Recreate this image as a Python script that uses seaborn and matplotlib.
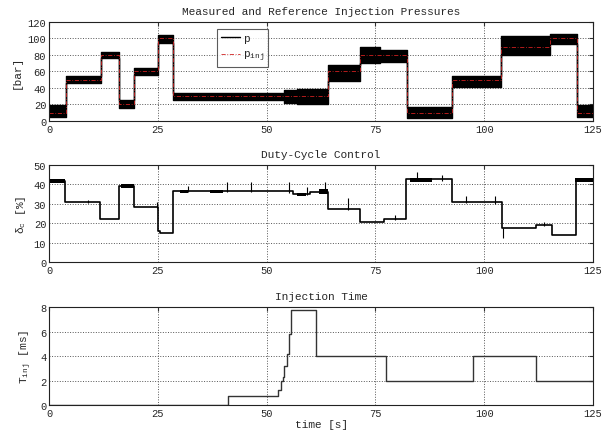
import matplotlib
matplotlib.use('Agg')
import matplotlib.pyplot as plt
import seaborn as sns
import pandas as pd

# measured / reference pressure, segments start at p_t (s)
p_t = [0, 4, 12, 16, 19.5, 25, 28.5, 54, 57, 64.2, 71.5, 76, 82.3, 92.5, 103.8, 115.2, 121.2]
p_ref = [10, 50, 80, 20, 60, 100, 30, 30, 30, 60, 80, 80, 10, 50, 90, 100, 10]
p_lo = [5, 46, 76, 16, 56, 95, 26, 22, 20, 49, 70, 72, 4, 41, 80, 93, 5]
p_hi = [19, 54, 84, 25, 64, 104, 34, 38, 39, 68, 90, 86, 17, 55, 103, 106, 19]

# duty cycle [%]
d_t = [0, 3.75, 11.8, 16.1, 19.5, 25, 25.4, 28.5, 56, 60, 64.2, 71.5, 77, 82, 92.5, 104, 112, 115.5, 121]
d_val = [41.8, 31, 22.3, 39.4, 28.3, 16, 14.8, 36.6, 35.2, 36.2, 27.4, 20.8, 22.2, 42.8, 31, 17.3, 19.3, 13.8, 42.5]
spike_t = [9, 24.8, 32, 40.8, 46.3, 55.2, 59.2, 63.5, 68.7, 79.6, 84.6, 90.2, 95.8, 102.5, 104.2, 113.8]
spike_lo = [30.5, 28, 36, 36, 36, 35.5, 34.5, 35.5, 26.8, 21.5, 42, 42, 30.5, 30, 12.5, 18.8]
spike_hi = [32, 31, 39, 41.5, 41.5, 41, 38.5, 41, 33, 24, 46.5, 45, 34, 34, 17.5, 20.5]
band_t0 = [0, 16.5, 30, 37, 57, 62, 83, 120.8]
band_t1 = [3.75, 19.5, 32, 40, 59, 64, 88, 125]
band_lo = [40.5, 38.3, 35.8, 35.8, 34.2, 35.3, 41.5, 41.5]
band_hi = [43, 40.2, 37.3, 37.3, 35.8, 37.5, 43.5, 43.3]

# injection time [ms]
ti_t = [0, 41.1, 52.6, 53.2, 53.7, 54.0, 54.6, 55.1, 55.6, 61.3, 77.5, 97.5, 111.8]
ti_val = [0, 0.77, 1.26, 2.0, 2.3, 3.2, 4.2, 5.8, 7.8, 4, 2, 4, 2]

T_END = 125

sns.set_style('white')
plt.rcParams['font.family'] = ['Liberation Mono', 'DejaVu Sans']
plt.rcParams['mathtext.fontset'] = 'custom'
plt.rcParams['mathtext.rm'] = 'Liberation Mono'
plt.rcParams['mathtext.it'] = 'Liberation Mono'
plt.rcParams['font.size'] = 7.5

fig = plt.figure(figsize=(6.15, 4.31), dpi=100)
ax1 = fig.add_axes([0.0797, 0.717, 0.8846, 0.2297])
ax2 = fig.add_axes([0.0797, 0.3898, 0.8846, 0.225])
ax3 = fig.add_axes([0.0797, 0.058, 0.8846, 0.2267])


def ext(t, v):
    return list(t) + [T_END], list(v) + [v[-1]]


def style(ax, ymax, ystep):
    ax.set_xlim(0, T_END)
    ax.set_ylim(0, ymax)
    ax.set_xticks(range(0, 126, 25))
    ax.set_yticks(range(0, ymax + 1, ystep))
    ax.grid(True, linestyle=':', color='#555555', linewidth=0.7)
    ax.tick_params(direction='in', length=3, top=True, right=True,
                   labelsize=7.5, pad=2, color='#333333')
    for s in ax.spines.values():
        s.set_color('#222222')
        s.set_linewidth(0.8)


# --- pressures
tt, lo = ext(p_t, p_lo)
_, hi = ext(p_t, p_hi)
ax1.fill_between(tt, lo, hi, step='post', color='black', linewidth=1.0, edgecolor='black')
_, ref = ext(p_t, p_ref)
ax1.plot([], [], color='black', linewidth=1, label='p')
sns.lineplot(x=tt, y=ref, ax=ax1, drawstyle='steps-post', color='#d02020',
             linestyle=(0, (5, 2, 1, 2)), linewidth=0.6, label=r'p$_{\mathrm{inj}}$')
style(ax1, 120, 20)
ax1.set_ylabel('[bar]', fontsize=8, labelpad=4)
ax1.set_title('Measured and Reference Injection Pressures', fontsize=8, pad=6)
leg = ax1.legend(loc='upper left', bbox_to_anchor=(0.309, 0.93), fontsize=8,
                 frameon=True, fancybox=False, edgecolor='#333333',
                 handlelength=1.7, borderpad=0.35, labelspacing=0.55,
                 handletextpad=0.3, borderaxespad=0)
leg.get_frame().set_linewidth(0.8)

# --- duty cycle
tt, dv = ext(d_t, d_val)
sns.lineplot(x=tt, y=dv, ax=ax2, drawstyle='steps-post', color='black', linewidth=1.2)
for a, b, l, h in zip(band_t0, band_t1, band_lo, band_hi):
    ax2.fill_between([a, b], [l, l], [h, h], color='black', linewidth=0)
ax2.vlines(spike_t, spike_lo, spike_hi, color='black', linewidth=0.8)
style(ax2, 50, 10)
ax2.set_ylabel(r'$\delta_{c}$ [%]', fontsize=8, labelpad=4)
ax2.set_title('Duty-Cycle Control', fontsize=8, pad=6)

# --- injection time
tt, tv = ext(ti_t, ti_val)
df = pd.DataFrame({'t': tt, 'ti': tv})
sns.lineplot(data=df, x='t', y='ti', ax=ax3, drawstyle='steps-post', color='#333333', linewidth=1.0)
style(ax3, 8, 2)
ax3.set_ylabel(r'T$_{\mathrm{inj}}$ [ms]', fontsize=8, labelpad=4)
ax3.set_xlabel('time [s]', fontsize=8, labelpad=1)
ax3.set_title('Injection Time', fontsize=8, pad=6)

for ax in (ax1, ax2):
    ax.set_xlabel('')

fig.savefig('out.png', dpi=100)
